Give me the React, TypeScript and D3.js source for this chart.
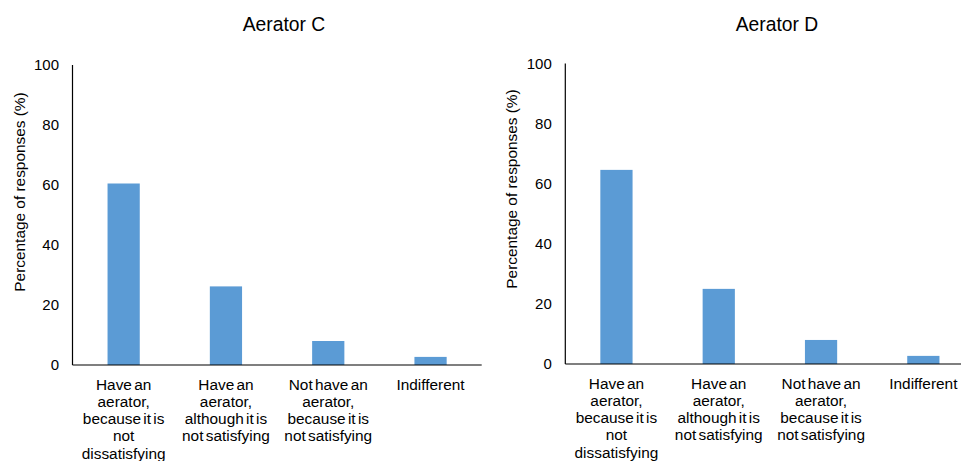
import * as React from "react"
import * as d3 from "d3"

// categories and values
const categories: string[][] = [
    ["Have an", "aerator,", "because it is", "not", "dissatisfying"],
    ["Have an", "aerator,", "although it is", "not satisfying"],
    ["Not have an", "aerator,", "because it is", "not satisfying"],
    ["Indifferent"],
]
const aeratorC: number[] = [60.5, 26.2, 8.0, 2.7]
const aeratorD: number[] = [64.6, 25.0, 8.0, 2.7]
const yTicks: number[] = [0, 20, 40, 60, 80, 100]
const yLabel = "Percentage of responses (%)"

const FONT = "'Liberation Sans', Arial, sans-serif"
const BAR = "#5B9BD5"

interface PanelProps {
    readonly title: string
    readonly values: number[]
    readonly axisX: number
    readonly plotW: number
    readonly top: number
    readonly bottom: number
    readonly titleX: number
    readonly labelX: number
    readonly labelY: number
}

function Panel(props: PanelProps): JSX.Element {
    const { title, values, axisX, plotW, top, bottom, titleX, labelX, labelY } = props

    const x = d3.scaleBand<number>()
        .domain(values.map((_, i) => i))
        .range([axisX, axisX + plotW])
        .paddingInner(0.685)
        .paddingOuter(0.3425)

    const y = d3.scaleLinear().domain([0, 100]).range([bottom, top])

    return (
        <g>
            <text x={titleX} y={31} textAnchor="middle" fontSize={19.3} fill="#000">{title}</text>
            <text
                transform={"translate(" + labelX + "," + labelY + ") rotate(-90)"}
                textAnchor="middle" fontSize={15.4} fill="#000">{yLabel}</text>

            {yTicks.map(t => (
                <text key={t} x={axisX - 13.5} y={y(t)} dy="0.35em" textAnchor="end" fontSize={15} fill="#000">{t}</text>
            ))}

            {values.map((v, i) => (
                <rect key={i} x={x(i)} y={y(v)} width={x.bandwidth()} height={y(0) - y(v)} fill={BAR} />
            ))}

            <line x1={axisX} x2={axisX} y1={y(100)} y2={y(0)} stroke="#000" strokeWidth={1.2} />
            <line x1={axisX} x2={axisX + plotW} y1={y(0)} y2={y(0)} stroke="#000" strokeWidth={1.2} />

            {categories.map((lines, i) => (
                <text key={i} textAnchor="middle" fontSize={15.4} fill="#000" wordSpacing={-2}>
                    {lines.map((l, j) => (
                        <tspan key={j} x={(x(i) as number) + x.bandwidth() / 2} y={y(0) + 24.5 + j * 17.3}>{l}</tspan>
                    ))}
                </text>
            ))}
        </g>
    )
}

export default function App(): JSX.Element {
    return (
        <svg width={961} height={461} style={{ display: "block", position: "absolute", left: 0, top: 0, background: "#fff" }}
            fontFamily={FONT}>
            <rect width={961} height={461} fill="#fff" />
            <Panel title="Aerator C" values={aeratorC} axisX={72.5} plotW={409.2} top={65} bottom={365}
                titleX={284} labelX={25} labelY={192} />
            <Panel title="Aerator D" values={aeratorD} axisX={565.3} plotW={409.2} top={63.5} bottom={364}
                titleX={777} labelX={517} labelY={189} />
        </svg>
    )
}
